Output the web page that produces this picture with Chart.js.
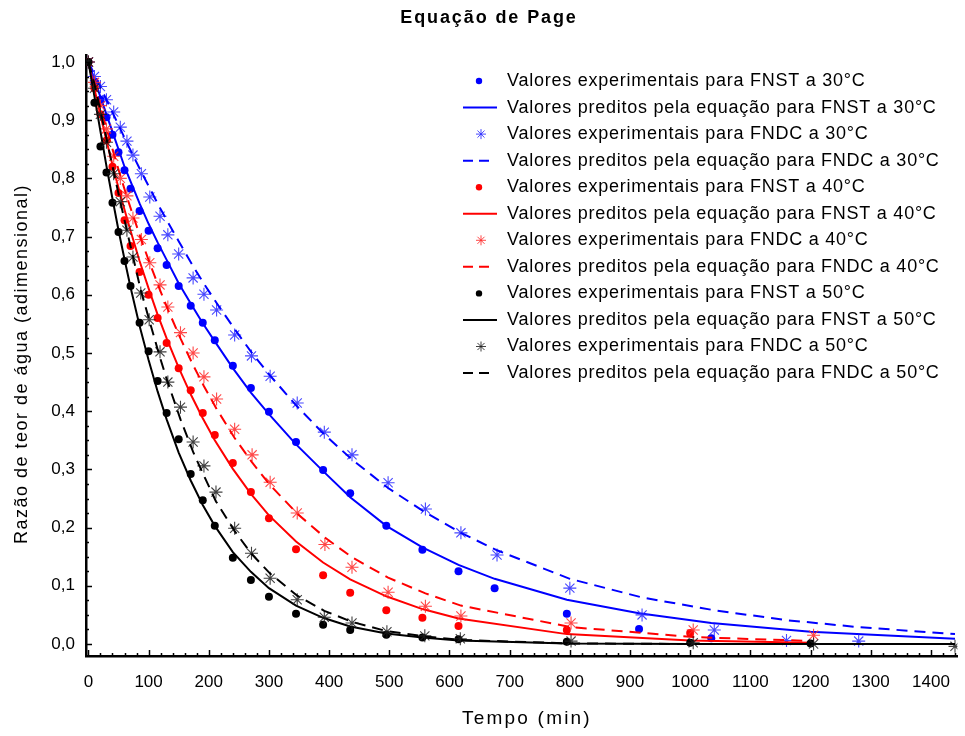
<!DOCTYPE html>
<html>
<head>
<meta charset="utf-8">
<script src="https://cdn.jsdelivr.net/npm/chart.js@4.4.1/dist/chart.umd.min.js"></script>
<style>
  html, body { margin: 0; padding: 0; background: #fff; }
</style>
</head>
<body>
<canvas id="chart" width="965" height="736"></canvas>
<script>
// Tempo (min) e razão de teor de água
const tempoFnst30 = [0, 10, 20, 30, 40, 50, 60, 70, 85, 100, 115, 130, 150, 170, 190, 210, 240, 270, 300, 345, 390, 435, 495, 555, 615, 675, 795, 915, 1035];
const expFnst30 = [1.0, 0.965, 0.935, 0.905, 0.875, 0.845, 0.814, 0.782, 0.744, 0.710, 0.680, 0.651, 0.615, 0.581, 0.552, 0.522, 0.478, 0.440, 0.399, 0.347, 0.299, 0.259, 0.203, 0.162, 0.125, 0.096, 0.052, 0.026, 0.010];
const tempoPredFnst30 = [0, 10, 20, 30, 40, 50, 60, 70, 85, 100, 115, 130, 150, 170, 190, 210, 240, 270, 300, 345, 390, 435, 495, 555, 615, 675, 795, 915, 1035, 1200, 1440];
const predFnst30 = [1.0, 0.97, 0.94, 0.91, 0.88, 0.85, 0.82, 0.795, 0.757, 0.722, 0.69, 0.66, 0.62, 0.585, 0.551, 0.52, 0.474, 0.432, 0.395, 0.343, 0.297, 0.252, 0.203, 0.166, 0.136, 0.112, 0.076, 0.053, 0.036, 0.021, 0.009];

const tempoFndc30 = [0, 10, 20, 30, 42, 53, 64, 74, 88, 102, 119, 132, 150, 174, 192, 213, 243, 271, 302, 347, 392, 438, 498, 560, 619, 679, 800, 920, 1040, 1160, 1280];
const expFndc30 = [1.0, 0.975, 0.958, 0.935, 0.914, 0.888, 0.864, 0.840, 0.808, 0.768, 0.735, 0.703, 0.670, 0.629, 0.601, 0.574, 0.531, 0.495, 0.460, 0.414, 0.364, 0.325, 0.277, 0.232, 0.191, 0.153, 0.096, 0.050, 0.024, 0.006, 0.005];
const tempoPredFndc30 = [0, 10, 20, 30, 42, 53, 64, 74, 88, 102, 119, 132, 150, 174, 192, 213, 243, 271, 302, 347, 392, 438, 498, 560, 619, 679, 800, 920, 1040, 1160, 1280, 1440];
const predFndc30 = [1.0, 0.979, 0.957, 0.935, 0.909, 0.885, 0.861, 0.840, 0.811, 0.783, 0.749, 0.725, 0.692, 0.649, 0.619, 0.586, 0.541, 0.501, 0.461, 0.408, 0.360, 0.317, 0.268, 0.226, 0.191, 0.161, 0.112, 0.080, 0.058, 0.041, 0.029, 0.017];

const tempoFnst40 = [0, 10, 20, 30, 40, 50, 60, 70, 85, 100, 115, 130, 150, 170, 190, 210, 240, 270, 300, 345, 390, 435, 495, 555, 615, 795, 1000];
const expFnst40 = [1.0, 0.955, 0.91, 0.865, 0.82, 0.775, 0.728, 0.684, 0.639, 0.600, 0.560, 0.517, 0.474, 0.436, 0.397, 0.359, 0.311, 0.261, 0.216, 0.163, 0.118, 0.088, 0.058, 0.045, 0.031, 0.024, 0.019];
const tempoPredFnst40 = [0, 10, 20, 30, 40, 50, 60, 70, 85, 100, 115, 130, 150, 170, 190, 210, 240, 270, 300, 345, 390, 435, 495, 555, 615, 795, 1000, 1200];
const predFnst40 = [1.0, 0.954, 0.909, 0.865, 0.823, 0.784, 0.746, 0.710, 0.658, 0.611, 0.566, 0.525, 0.475, 0.429, 0.388, 0.350, 0.301, 0.258, 0.221, 0.176, 0.140, 0.111, 0.082, 0.060, 0.044, 0.017, 0.006, 0.002];

const tempoFndc40 = [0, 10, 20, 30, 42, 53, 64, 74, 88, 102, 119, 132, 153, 174, 192, 213, 243, 272, 302, 347, 393, 438, 498, 560, 619, 802, 1005, 1205];
const expFndc40 = [1.0, 0.965, 0.925, 0.885, 0.838, 0.80, 0.77, 0.732, 0.695, 0.655, 0.617, 0.579, 0.535, 0.500, 0.459, 0.421, 0.369, 0.325, 0.278, 0.225, 0.171, 0.132, 0.089, 0.065, 0.048, 0.036, 0.024, 0.015];
const predFndc40 = [1.0, 0.962, 0.923, 0.886, 0.843, 0.805, 0.768, 0.737, 0.694, 0.654, 0.608, 0.575, 0.525, 0.479, 0.443, 0.404, 0.354, 0.312, 0.273, 0.224, 0.183, 0.149, 0.114, 0.087, 0.066, 0.029, 0.012, 0.005];

const tempoFnst50 = [0, 10, 20, 30, 40, 50, 60, 70, 85, 100, 115, 130, 150, 170, 190, 210, 240, 270, 300, 345, 390, 435, 495, 555, 615, 795, 1000, 1200];
const expFnst50 = [1.0, 0.93, 0.855, 0.81, 0.758, 0.708, 0.658, 0.615, 0.552, 0.503, 0.452, 0.397, 0.352, 0.292, 0.247, 0.203, 0.148, 0.110, 0.081, 0.052, 0.033, 0.024, 0.016, 0.011, 0.008, 0.004, 0.002, 0.001];
const tempoPredFnst50 = [0, 10, 20, 30, 40, 50, 60, 70, 85, 100, 115, 130, 150, 170, 190, 210, 240, 270, 300, 345, 390, 435, 495, 555, 615, 795, 1000, 1200, 1440];
const predFnst50 = [1.0, 0.941, 0.881, 0.821, 0.765, 0.711, 0.661, 0.613, 0.547, 0.488, 0.434, 0.386, 0.329, 0.281, 0.239, 0.203, 0.158, 0.124, 0.096, 0.066, 0.045, 0.030, 0.018, 0.011, 0.006, 0.001, 0.0, 0.0, 0.0];

const tempoFndc50 = [0, 10, 20, 30, 42, 53, 64, 74, 87, 101, 119, 132, 153, 174, 192, 212, 243, 271, 302, 347, 392, 438, 496, 559, 618, 802, 1005, 1205, 1440];
const expFndc50 = [1.0, 0.955, 0.91, 0.862, 0.808, 0.76, 0.711, 0.665, 0.603, 0.557, 0.502, 0.450, 0.407, 0.347, 0.306, 0.261, 0.199, 0.156, 0.113, 0.076, 0.046, 0.036, 0.021, 0.014, 0.009, 0.005, 0.002, 0.0, -0.004];
const predFndc50 = [1.0, 0.962, 0.916, 0.869, 0.811, 0.760, 0.710, 0.666, 0.608, 0.557, 0.492, 0.449, 0.386, 0.330, 0.289, 0.245, 0.194, 0.155, 0.121, 0.083, 0.057, 0.038, 0.022, 0.013, 0.007, 0.001, 0.0, 0.0, 0.0];

const xTickStep = 100;
const xMinorStep = 20;
const yTickStep = 0.1;
const yMinorStep = 0.025;

const FONT = '"Liberation Sans", Arial, sans-serif';
const BLUE = "#0000ff";
const RED = "#ff0000";
const BLACK = "#000000";

function pairs(xs, ys) {
  return xs.map((x, i) => ({ x: x, y: ys[i] }));
}

function dots(label, xs, ys, color) {
  return {
    label: label,
    kind: "dot",
    data: pairs(xs, ys),
    showLine: false,
    pointStyle: "circle",
    pointRadius: 4,
    pointBackgroundColor: color,
    pointBorderWidth: 0,
    backgroundColor: color,
  };
}

function stars(label, xs, ys, color) {
  return {
    label: label,
    kind: "star",
    data: pairs(xs, ys),
    showLine: false,
    pointStyle: "star",
    pointRadius: 6.5,
    pointBorderColor: color,
    pointBorderWidth: 1.1,
    borderColor: color,
  };
}

function line(label, xs, ys, color, dashed) {
  return {
    label: label,
    kind: dashed ? "dash" : "line",
    data: pairs(xs, ys),
    showLine: true,
    pointRadius: 0,
    borderColor: color,
    borderWidth: 2,
    borderDash: dashed ? [11, 7] : [],
    tension: 0,
  };
}

const datasets = [
  dots("Valores experimentais para FNST a 30°C", tempoFnst30, expFnst30, BLUE),
  line("Valores preditos pela equação para FNST a 30°C", tempoPredFnst30, predFnst30, BLUE, false),
  stars("Valores experimentais para FNDC a 30°C", tempoFndc30, expFndc30, "rgba(40,40,255,0.85)"),
  line("Valores preditos pela equação para FNDC a 30°C", tempoPredFndc30, predFndc30, BLUE, true),
  dots("Valores experimentais para FNST a 40°C", tempoFnst40, expFnst40, RED),
  line("Valores preditos pela equação para FNST a 40°C", tempoPredFnst40, predFnst40, RED, false),
  stars("Valores experimentais para FNDC a 40°C", tempoFndc40, expFndc40, "rgba(255,40,40,0.85)"),
  line("Valores preditos pela equação para FNDC a 40°C", tempoFndc40, predFndc40, RED, true),
  dots("Valores experimentais para FNST a 50°C", tempoFnst50, expFnst50, BLACK),
  line("Valores preditos pela equação para FNST a 50°C", tempoPredFnst50, predFnst50, BLACK, false),
  stars("Valores experimentais para FNDC a 50°C", tempoFndc50, expFndc50, "rgba(30,30,30,0.85)"),
  line("Valores preditos pela equação para FNDC a 50°C", tempoFndc50, predFndc50, BLACK, true),
];

// draw later datasets on top, like the original
datasets.forEach((ds, i) => { ds.order = datasets.length - i; });

// inward tick marks on both axes
const tickMarks = {
  id: "tickMarks",
  afterDatasetsDraw(chart) {
    const ctx = chart.ctx;
    const xs = chart.scales.x;
    const ys = chart.scales.y;
    const area = chart.chartArea;
    ctx.save();
    ctx.strokeStyle = "#000";
    ctx.lineWidth = 1.5;
    ctx.beginPath();
    for (let v = 0; v <= 1440; v += xMinorStep) {
      const px = Math.round(xs.getPixelForValue(v)) + 0.5;
      const len = v % xTickStep === 0 ? 6 : 3;
      ctx.moveTo(px, area.bottom);
      ctx.lineTo(px, area.bottom - len);
    }
    for (let k = 0; k <= 40; k++) {
      const v = k * yMinorStep;
      const py = Math.round(ys.getPixelForValue(v)) + 0.5;
      const len = k % 4 === 0 ? 6 : 3;
      ctx.moveTo(area.left, py);
      ctx.lineTo(area.left + len, py);
    }
    ctx.stroke();
    ctx.restore();
  },
};

// title, axis titles and legend drawn by hand (letter spacing like the original)
const texts = {
  id: "texts",
  afterDraw(chart) {
    const ctx = chart.ctx;
    ctx.save();
    ctx.fillStyle = "#000";
    ctx.textAlign = "center";
    ctx.textBaseline = "middle";

    ctx.font = "bold 18px " + FONT;
    ctx.letterSpacing = "1.9px";
    ctx.fillText("Equação de Page", 489, 18);

    ctx.font = "19px " + FONT;
    ctx.letterSpacing = "2.2px";
    ctx.fillText("Tempo (min)", 527, 719);

    ctx.save();
    ctx.translate(22, 364);
    ctx.rotate(-Math.PI / 2);
    ctx.font = "18px " + FONT;
    ctx.letterSpacing = "1.5px";
    ctx.fillText("Razão de teor de água (adimensional)", 0, 0);
    ctx.restore();

    // legend
    ctx.textAlign = "left";
    ctx.font = "18px " + FONT;
    ctx.letterSpacing = "0.75px";
    chart.data.datasets.forEach((ds, i) => {
      const y = 81 + i * 26.55;
      ctx.save();
      if (ds.kind === "dot") {
        ctx.fillStyle = ds.backgroundColor;
        ctx.beginPath();
        ctx.arc(479, y, 3.2, 0, Math.PI * 2);
        ctx.fill();
      } else if (ds.kind === "star") {
        ctx.strokeStyle = ds.borderColor;
        ctx.fillStyle = ds.borderColor;
        Chart.helpers.drawPoint(ctx, { pointStyle: "star", radius: 5, borderWidth: 1 }, 481, y);
      } else {
        ctx.strokeStyle = ds.borderColor;
        ctx.lineWidth = 2;
        ctx.setLineDash(ds.kind === "dash" ? [10, 6] : []);
        ctx.beginPath();
        ctx.moveTo(463, y);
        ctx.lineTo(ds.kind === "dash" ? 489 : 497, y);
        ctx.stroke();
      }
      ctx.restore();
      ctx.fillText(ds.label, 507, y);
    });
    ctx.restore();
  },
};

const chart = new Chart(document.getElementById("chart"), {
  type: "scatter",
  data: { datasets: datasets },
  plugins: [tickMarks, texts],
  options: {
    responsive: false,
    animation: false,
    devicePixelRatio: 1,
    layout: { padding: { left: 0, right: 3, top: 55, bottom: 0 } },
    plugins: {
      legend: { display: false },
      title: { display: false },
      tooltip: { enabled: false },
    },
    scales: {
      x: {
        type: "linear",
        min: -4,
        max: 1444,
        afterFit: (s) => { s.height = 80; },
        grid: {
          display: true,
          drawOnChartArea: false,
          drawTicks: true,
          tickLength: 13,
          color: "rgba(0,0,0,0)",
        },
        border: { display: true, color: "#000", width: 2.5 },
        ticks: {
          stepSize: xTickStep,
          includeBounds: false,
          autoSkip: false,
          maxRotation: 0,
          padding: 3,
          color: "#000",
          font: { family: FONT, size: 17 },
          callback: (v) => String(v),
        },
      },
      y: {
        type: "linear",
        min: -0.0206,
        max: 1.012,
        afterFit: (s) => { s.width = 86; },
        grid: { display: false, drawTicks: false },
        border: { display: true, color: "#000", width: 2.5 },
        ticks: {
          stepSize: yTickStep,
          includeBounds: false,
          padding: 11,
          color: "#000",
          font: { family: FONT, size: 17 },
          callback: (v) => v.toFixed(1).replace(".", ","),
        },
      },
    },
  },
});
</script>
</body>
</html>
